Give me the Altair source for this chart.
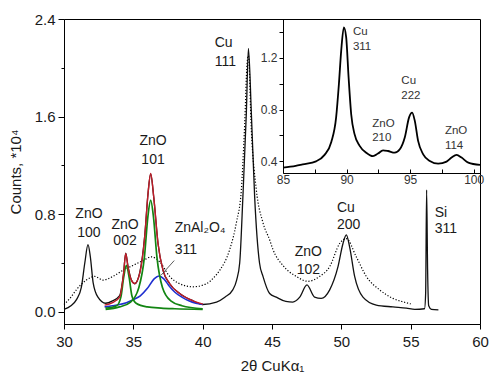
import altair as alt
import pandas as pd

# ---------------- data ----------------
# main pattern (solid)
solid_x = [30.0, 30.5, 30.9, 31.25, 31.5, 31.73, 31.9, 32.1, 32.45, 33.0, 33.5, 34.0, 34.3, 34.45,
           34.62, 34.86, 35.1, 35.46, 35.82, 36.06, 36.25, 36.47, 36.78, 37.14, 37.62, 38.34, 39.3,
           40.0, 41.0, 41.6, 42.17, 42.45, 42.67, 42.9, 43.15, 43.3, 43.51, 43.75, 44.1, 44.35, 44.83,
           45.31, 46.0, 46.5, 47.0, 47.52, 48.07, 48.55, 49.16, 49.76, 50.12, 50.36, 50.6, 50.96,
           51.56, 52.52, 53.72, 54.69, 55.3, 56.0, 56.08, 56.15, 56.22, 56.3, 56.5, 57.0]
solid_y = [0.02, 0.05, 0.10, 0.20, 0.40, 0.55, 0.45, 0.24, 0.12, 0.07, 0.09, 0.13, 0.32, 0.48,
           0.37, 0.26, 0.23, 0.32, 0.62, 0.97, 1.13, 0.94, 0.56, 0.34, 0.23, 0.15, 0.09,
           0.06, 0.08, 0.12, 0.18, 0.26, 0.40, 0.94, 1.63, 2.16, 1.63, 0.94, 0.40, 0.29, 0.15,
           0.12, 0.085, 0.08, 0.12, 0.22, 0.12, 0.11, 0.18, 0.37, 0.56, 0.63, 0.53, 0.29,
           0.12, 0.055, 0.04, 0.03, 0.02, 0.025, 0.15, 1.0, 0.35, 0.05, 0.02, 0.015]

# main pattern (dotted)
dot_x = [30.0, 30.5, 30.89, 31.2, 31.61, 32.21, 32.81, 33.53, 34.25, 34.97, 35.7, 36.3, 36.9, 37.62,
         38.34, 39.3, 40.27, 40.8, 41.23, 41.95, 42.43, 42.79, 42.9, 43.03, 43.2, 43.3, 43.51, 43.87,
         44.35, 44.83, 45.07, 45.79, 46.75, 47.59, 48.43, 49.16, 49.88, 50.36, 51.08, 51.8, 52.76,
         53.72, 54.5, 55.0]
dot_y = [0.06, 0.12, 0.18, 0.22, 0.26, 0.29, 0.26, 0.29, 0.34, 0.38, 0.42, 0.45, 0.41, 0.29,
         0.23, 0.205, 0.23, 0.28, 0.34, 0.51, 0.73, 1.0, 1.22, 1.54, 2.03, 2.1, 1.49, 1.0,
         0.73, 0.59, 0.51, 0.38, 0.29, 0.25, 0.29, 0.37, 0.56, 0.60, 0.45, 0.29, 0.18,
         0.11, 0.08, 0.065]

# fit: sum (red)
sum_x = [32.93, 33.5, 34.02, 34.3, 34.45, 34.61, 34.86, 35.1, 35.46, 35.82, 36.06, 36.25, 36.47,
         36.78, 37.14, 37.62, 38.34, 39.3, 40.02]
sum_y = [0.055, 0.075, 0.123, 0.315, 0.478, 0.369, 0.26, 0.232, 0.315, 0.615, 0.97, 1.134, 0.943,
         0.56, 0.342, 0.232, 0.15, 0.09, 0.063]
# fit: ZnO 002 (green)
g002_x = [33.0, 33.8, 34.1, 34.3, 34.5, 34.7, 34.9, 35.2, 36.0, 37.0, 38.0, 40.0]
g002_y = [0.03, 0.05, 0.12, 0.28, 0.38, 0.28, 0.13, 0.07, 0.04, 0.03, 0.025, 0.02]
# fit: ZnO 101 (green)
g101_x = [33.0, 34.0, 34.8, 35.4, 35.8, 36.05, 36.25, 36.45, 36.7, 37.1, 37.7, 38.5, 40.0]
g101_y = [0.02, 0.04, 0.08, 0.2, 0.45, 0.78, 0.916, 0.78, 0.45, 0.2, 0.09, 0.05, 0.025]
# fit: ZnAl2O4 311 (blue)
blue_x = [32.93, 33.5, 34.0, 34.5, 35.0, 35.5, 36.0, 36.5, 36.85, 37.2, 37.6, 38.0, 38.5, 39.0,
          39.5, 40.0]
blue_y = [0.04, 0.05, 0.06, 0.075, 0.10, 0.13, 0.19, 0.27, 0.293, 0.27, 0.21, 0.16, 0.12, 0.09,
          0.07, 0.06]

# leader line for ZnAl2O4 311
lead_x = [37.95, 37.0]
lead_y = [0.42, 0.30]

# inset pattern
ins_x = [85.0, 86.0, 86.55, 87.6, 88.27, 88.8, 89.18, 89.4, 89.58, 89.79, 89.97, 90.16, 90.37,
         90.63, 91.03, 91.55, 92.08, 92.47, 92.87, 93.26, 93.79, 94.19, 94.58, 94.92, 95.16,
         95.37, 95.63, 96.03, 96.55, 97.21, 97.87, 98.26, 98.66, 99.05, 99.58, 100.5]
ins_y = [0.351, 0.365, 0.377, 0.40, 0.45, 0.55, 0.74, 1.0, 1.256, 1.436, 1.36, 1.05, 0.76,
         0.61, 0.52, 0.467, 0.44, 0.46, 0.485, 0.48, 0.467, 0.493, 0.584, 0.74, 0.777,
         0.713, 0.558, 0.454, 0.403, 0.382, 0.398, 0.429, 0.45, 0.429, 0.39, 0.372]

# annotations
ctr_text = ["ZnO", "100", "ZnO", "002", "ZnO", "101", "ZnO", "102"]
ctr_x = [31.8, 31.8, 34.4, 34.4, 36.42, 36.42, 47.62, 47.62]
ctr_y = [0.80, 0.648, 0.711, 0.582, 1.397, 1.243, 0.492, 0.342]

left_text = ["ZnAl₂O₄", "311", "Cu", "111", "Cu", "200", "Si", "311"]
left_x = [37.98, 37.98, 40.87, 40.87, 49.68, 49.68, 56.73, 56.73]
left_y = [0.684, 0.506, 2.2, 2.049, 0.848, 0.711, 0.807, 0.675]

ins_text = ["Cu", "311", "Cu", "222", "ZnO", "210", "ZnO", "114"]
ins_tx = [90.5, 90.5, 94.31, 94.31, 92.02, 92.02, 97.74, 97.74]
ins_ty = [1.398, 1.281, 1.023, 0.907, 0.687, 0.584, 0.636, 0.519]

main_x_ticks = [30.0, 32.5, 35.0, 37.5, 40.0, 42.5, 45.0, 47.5, 50.0, 52.5, 55.0, 57.5, 60.0]
main_y_ticks = [0.0, 0.4, 0.8, 1.2, 1.6, 2.0, 2.4]
ins_x_ticks = [85.0, 87.5, 90.0, 92.5, 95.0, 97.5, 100.0]
ins_y_ticks = [0.4, 0.6, 0.8, 1.0, 1.2, 1.4]

FONT = "Liberation Sans, Arial, sans-serif"

# ---------------- scales & axes ----------------
XM = alt.Scale(domain=[30, 60], nice=False, zero=False)
YM = alt.Scale(domain=[-0.1, 2.4], nice=False, zero=False)
XI = alt.Scale(domain=[85, 100.5], range=[219, 416], nice=False, zero=False)
YI = alt.Scale(domain=[0.31, 1.5], range=[154, 0], nice=False, zero=False)

x_major = "datum.value % 5 === 0"
y_major = "abs(datum.value / 0.8 - round(datum.value / 0.8)) < 0.01"
yi_major = "abs(datum.value / 0.4 - round(datum.value / 0.4)) < 0.01"

main_x_axis = alt.Axis(
    values=main_x_ticks, labelExpr=f"{x_major} ? datum.label : ''",
    tickSize={"condition": {"test": x_major, "value": 5}, "value": 3},
    labelFontSize=15, labelPadding=5, labelOverlap=False, labelFlush=False,
    title="2θ  CuKα₁", titleFontSize=15, titleFontWeight="normal", titlePadding=9,
    grid=False)
main_y_axis = alt.Axis(
    values=main_y_ticks, labelExpr=f"{y_major} ? datum.label : ''", format=".1f",
    tickSize={"condition": {"test": y_major, "value": 6}, "value": 3},
    labelFontSize=15, labelPadding=3, labelOverlap=False, labelFlush=False,
    title="Counts, *10⁴", titleFontSize=15, titleFontWeight="normal", titlePadding=11,
    grid=False)

ins_x_axis = alt.Axis(
    orient="bottom", offset=-151, values=ins_x_ticks,
    labelExpr=f"{x_major} ? datum.label : ''", tickSize={"expr": "-4"},
    labelFontSize=12, labelPadding=5, labelOverlap=False, labelFlush=False,
    labelColor="#333333", title="", grid=False)
ins_y_axis = alt.Axis(
    orient="left", offset=-219, values=ins_y_ticks, format=".1f",
    labelExpr=f"{yi_major} ? datum.label : ''", tickSize=4,
    labelFontSize=12, labelPadding=2, labelOverlap=False, labelFlush=False,
    labelColor="#333333", title="", grid=False)


def xy_df(xs, ys):
    return pd.DataFrame({"x": xs, "y": ys})


def main_enc(chart, first=False):
    if first:
        return chart.encode(
            x=alt.X("x:Q", scale=XM, axis=main_x_axis),
            y=alt.Y("y:Q", scale=YM, axis=main_y_axis),
            order=alt.Order("x:Q"))
    return chart.encode(
        x=alt.X("x:Q", scale=XM),
        y=alt.Y("y:Q", scale=YM),
        order=alt.Order("x:Q"))


solid = main_enc(alt.Chart(xy_df(solid_x, solid_y)).mark_line(
    color="#111111", strokeWidth=1.3, interpolate="monotone"), first=True)
dotted = main_enc(alt.Chart(xy_df(dot_x, dot_y)).mark_line(
    color="#000000", strokeWidth=1.2, strokeDash=[1.2, 1.8], interpolate="monotone"))
blue = main_enc(alt.Chart(xy_df(blue_x, blue_y)).mark_line(
    color="#1f2fd0", strokeWidth=1.6, interpolate="monotone"))
green1 = main_enc(alt.Chart(xy_df(g002_x, g002_y)).mark_line(
    color="#128512", strokeWidth=1.7, interpolate="monotone"))
green2 = main_enc(alt.Chart(xy_df(g101_x, g101_y)).mark_line(
    color="#128512", strokeWidth=1.7, interpolate="monotone"))
red = main_enc(alt.Chart(xy_df(sum_x, sum_y)).mark_line(
    color="#c01c28", strokeWidth=1.4, interpolate="monotone"))
leader = main_enc(alt.Chart(xy_df(lead_x, lead_y)).mark_line(
    color="#333333", strokeWidth=0.8))

ctr_df = pd.DataFrame({"x": ctr_x, "y": ctr_y, "t": ctr_text})
left_df = pd.DataFrame({"x": left_x, "y": left_y, "t": left_text})

ctr_labels = alt.Chart(ctr_df).mark_text(
    align="center", baseline="middle", fontSize=14, font=FONT, color="#1a1a1a").encode(
    x=alt.X("x:Q", scale=XM), y=alt.Y("y:Q", scale=YM), text="t:N")
left_labels = alt.Chart(left_df).mark_text(
    align="left", baseline="middle", fontSize=14, font=FONT, color="#1a1a1a").encode(
    x=alt.X("x:Q", scale=XM), y=alt.Y("y:Q", scale=YM), text="t:N")

main = alt.layer(solid, dotted, blue, green1, green2, red, leader, ctr_labels, left_labels)

# ---------------- inset ----------------
ins_line = alt.Chart(xy_df(ins_x, ins_y)).mark_line(
    color="#000000", strokeWidth=1.8, interpolate="monotone").encode(
    x=alt.X("x:Q", scale=XI, axis=ins_x_axis),
    y=alt.Y("y:Q", scale=YI, axis=ins_y_axis),
    order=alt.Order("x:Q"))
ins_df = pd.DataFrame({"x": ins_tx, "y": ins_ty, "t": ins_text})
ins_labels = alt.Chart(ins_df).mark_text(
    align="left", baseline="middle", fontSize=11.5, font=FONT, color="#333333").encode(
    x=alt.X("x:Q", scale=XI), y=alt.Y("y:Q", scale=YI), text="t:N")
inset = alt.layer(ins_line, ins_labels)

chart = alt.layer(main, inset).resolve_scale(x="independent", y="independent").properties(
    width=416, height=305,
    autosize=alt.AutoSizeParams(type="none"),
    padding={"left": 56, "top": 11, "right": 12, "bottom": 50},
    background="white",
).configure_view(stroke="#000000", strokeWidth=1).configure_axis(
    domainColor="#000000", tickColor="#000000", labelColor="#1a1a1a", titleColor="#1a1a1a",
    labelFont=FONT, titleFont=FONT, domainWidth=1, tickWidth=1)

chart.save("out.html", embed_options={"renderer": "svg", "actions": False})
